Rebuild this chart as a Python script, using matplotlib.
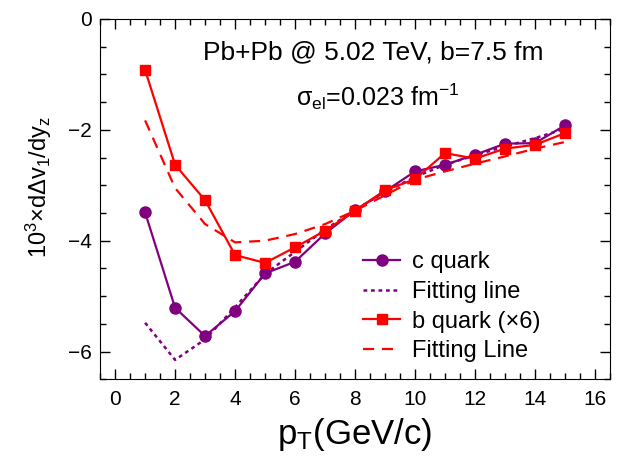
import numpy as np
import matplotlib
matplotlib.use("Agg")
import matplotlib.pyplot as plt
from matplotlib.ticker import MultipleLocator

plt.rcParams['font.family'] = ['Liberation Sans', 'DejaVu Sans']
plt.rcParams['mathtext.fontset'] = 'custom'
plt.rcParams['mathtext.rm'] = 'Liberation Sans'
plt.rcParams['mathtext.default'] = 'regular'

# data
pt = [1, 2, 3, 4, 5, 6, 7, 8, 9, 10, 11, 12, 13, 14, 15]
c_quark = [-3.49, -5.21, -5.72, -5.27, -4.59, -4.38, -3.87, -3.45, -3.11, -2.75, -2.63, -2.45, -2.25, -2.24, -1.92]
c_fit = [-5.48, -6.15, -5.78, -5.20, -4.60, -4.20, -3.80, -3.45, -3.12, -2.85, -2.63, -2.46, -2.30, -2.15, -1.98]
b_quark = [-0.92, -2.63, -3.27, -4.26, -4.40, -4.12, -3.82, -3.46, -3.09, -2.89, -2.42, -2.52, -2.34, -2.27, -2.06]
b_fit = [-1.83, -3.05, -3.70, -4.03, -4.00, -3.88, -3.70, -3.46, -3.18, -2.90, -2.75, -2.61, -2.48, -2.34, -2.22]

purple = '#800080'
red = '#ff0000'

fig = plt.figure(figsize=(6.18, 4.62), dpi=100)
ax = fig.add_axes([0.162, 0.179, 0.825, 0.780])

ax.plot(pt, c_quark, '-o', color=purple, lw=1.6, ms=8, label='c quark')
ax.plot(pt, c_fit, color=purple, lw=1.8, ls=(0, (1.5, 1.5)), label='Fitting line')
ax.plot(pt, b_quark, '-s', color=red, lw=1.6, ms=7.5, label='b quark (×6)')
ax.plot(pt, b_fit, color=red, lw=1.6, ls=(0, (5, 3.5)), label='Fitting Line')

ax.set_xlim(-0.5, 16.5)
ax.set_ylim(-6.5, 0)
ax.xaxis.set_major_locator(MultipleLocator(2))
ax.xaxis.set_minor_locator(MultipleLocator(0.5))
ax.yaxis.set_major_locator(MultipleLocator(2))
ax.yaxis.set_minor_locator(MultipleLocator(0.5))
ax.tick_params(which='both', direction='in', top=True, right=True, labelsize=15)
ax.tick_params(which='major', length=7, width=1)
ax.tick_params(which='minor', length=4, width=1)
ax.tick_params(axis='x', pad=8)
ax.tick_params(axis='y', pad=6)

ax.set_xlabel(r'p$_T$(GeV/c)', fontsize=25, labelpad=5)
ax.set_ylabel(r'10$^3$×dΔv$_1$/dy$_z$', fontsize=17)
ax.yaxis.set_label_coords(-0.09, 0.534)

ax.text(0.535, 0.908, 'Pb+Pb @ 5.02 TeV, b=7.5 fm', transform=ax.transAxes,
        ha='center', va='center', fontsize=19)
ax.text(0.545, 0.785, r'$\sigma_{el}$=0.023 fm$^{-1}$', transform=ax.transAxes,
        ha='center', va='center', fontsize=18)

ax.legend(loc='upper left', bbox_to_anchor=(0.516, 0.356), frameon=False, fontsize=17,
          handlelength=1.57, labelspacing=0.33, handletextpad=0.5,
          borderpad=0, borderaxespad=0)

fig.savefig('out.png', dpi=100)
